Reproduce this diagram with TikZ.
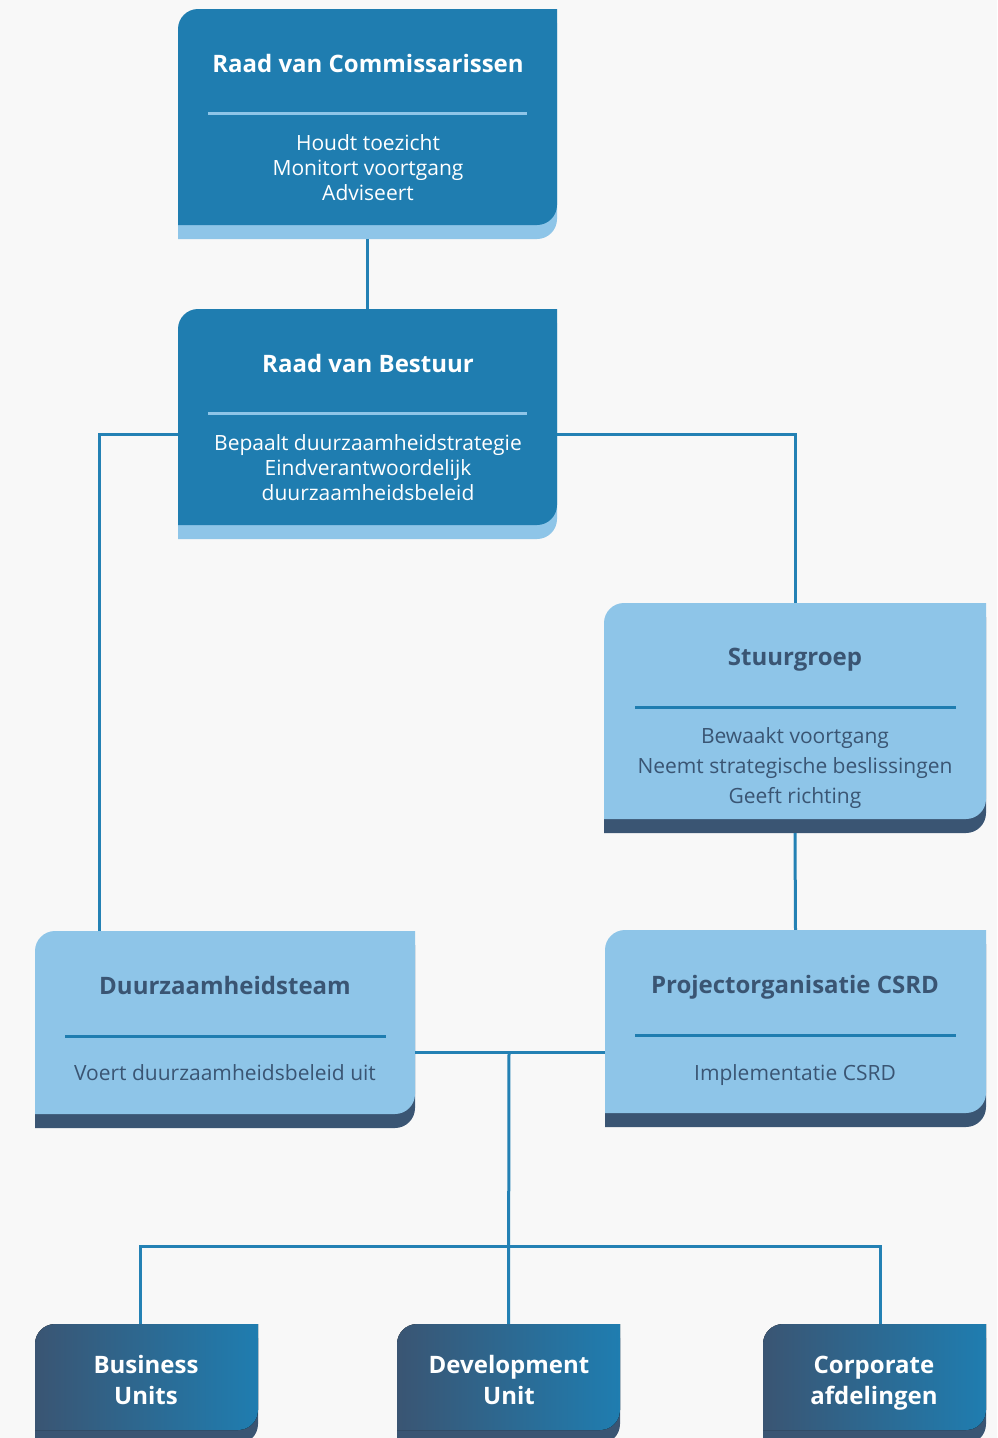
\documentclass[tikz,border=0pt]{standalone}
\usepackage{fontspec}
\setmainfont{Open Sans}
\usetikzlibrary{positioning,calc,fit}

\definecolor{pagegray}{HTML}{F8F8F8}
\definecolor{boardblue}{HTML}{1F7DB0}
\definecolor{skyblue}{HTML}{8EC5E8}
\definecolor{navy}{HTML}{3A5573}
\definecolor{linkblue}{HTML}{2481B4}

% outline with rounded top-left and bottom-right corner
\newcommand{\boxpath}[4]{(#1,#4) -- (#1,#2+20) arc[start angle=180,end angle=270,radius=20] -- (#3,#2) -- (#3,#4-20) arc[start angle=0,end angle=90,radius=20] -- cycle}

% name, x1, y1, x2, y2, fill, strip
\newcommand{\orgbox}[7]{
    \fill[#7] \boxpath{#2}{#3+14}{#4}{#5+14};
    \fill[#6] \boxpath{#2}{#3}{#4}{#5};
    \node[fit={(#2,#3) (#4,#5+14)}, inner sep=0pt] (#1) {};
}

\begin{document}
\begin{tikzpicture}[x=1pt, y=-1pt,
    link/.style={draw=linkblue, line width=3pt},
    rule/.style={line width=3pt},
    hd/.style={font=\bfseries\fontsize{24}{29}\selectfont, align=center},
    txt/.style={font=\fontsize{21}{25}\selectfont, align=center},
    unit/.style={left color=navy, middle color=navy!65!boardblue, right color=boardblue}]

    \fill[pagegray] (0,0) rectangle (997,1438);
    \useasboundingbox (0,0) rectangle (997,1438);
    \clip (0,0) rectangle (997,1438);

    % Board boxes
    \orgbox{rvc}{178}{9}{557}{225}{boardblue}{skyblue}
    \orgbox{rvb}{178}{309}{557}{525}{boardblue}{skyblue}

    \node[hd, text=white] (rvc-title) at (368,63) {Raad van Commissarissen};
    \draw[rule, skyblue] (208,113) -- (527,113);
    \node[txt, text=white] (rvc-text) at (368,168) {Houdt toezicht\\Monitort voortgang\\Adviseert};

    \node[hd, text=white] (rvb-title) at (368,363) {Raad van Bestuur};
    \draw[rule, skyblue] (208,413) -- (527,413);
    \node[txt, text=white] (rvb-text) at (368,468) {Bepaalt duurzaamheidstrategie\\Eindverantwoordelijk\\duurzaamheidsbeleid};

    % Light boxes
    \orgbox{stuur}{604}{603}{986}{819}{skyblue}{navy}
    \orgbox{team}{35}{931}{415}{1114}{skyblue}{navy}
    \orgbox{csrd}{605}{930}{986}{1113}{skyblue}{navy}

    \node[hd, text=navy] (stuur-title) at (795,660) {Stuurgroep};
    \draw[rule, boardblue] (635,707) -- (956,707);
    \node[txt, text=navy, font=\fontsize{21}{30}\selectfont] (stuur-text) at (795,768) {Bewaakt voortgang\\Neemt strategische beslissingen\\Geeft richting};

    \node[hd, text=navy] (team-title) at (225,985) {Duurzaamheidsteam};
    \draw[rule, boardblue] (65,1036) -- (386,1036);
    \node[txt, text=navy] (team-text) at (225,1073) {Voert duurzaamheidsbeleid uit};

    \node[hd, text=navy] (csrd-title) at (795,987) {Projectorganisatie CSRD};
    \draw[rule, boardblue] (635,1035) -- (956,1035);
    \node[txt, text=navy] (csrd-text) at (795,1075) {Implementatie CSRD};

    % Units
    \orgbox{bu}{35}{1324}{258}{1430}{unit}{navy}
    \orgbox{dev}{397}{1324}{620}{1430}{unit}{navy}
    \orgbox{corp}{763}{1324}{986}{1430}{unit}{navy}

    \node[hd, text=white, font=\bfseries\fontsize{24}{31}\selectfont] (bu-text) at (146,1380) {Business\\Units};
    \node[hd, text=white, font=\bfseries\fontsize{24}{31}\selectfont] (dev-text) at (509,1380) {Development\\Unit};
    \node[hd, text=white, font=\bfseries\fontsize{24}{31}\selectfont] (corp-text) at (874,1383) {Corporate\\afdelingen};

    % Connections
    \coordinate (hub) at (509,1052);
    \coordinate (bus) at (509,1246);
    \draw[link] (rvc.south) -- (rvb.north);
    \draw[link] ([yshift=-10pt]rvb.west) -| ([xshift=65pt]team.north west);
    \draw[link] ([yshift=-10pt]rvb.east) -| (stuur.north);
    \draw[link] (stuur.south) -- (csrd.north);
    \draw[link] (team.east |- hub) -- (csrd.west |- hub);
    \draw[link] (hub) -- (dev.north);
    \draw[link] ([xshift=-6pt]bu.north) |- (bus) -| ([xshift=6pt]corp.north);
\end{tikzpicture}
\end{document}
